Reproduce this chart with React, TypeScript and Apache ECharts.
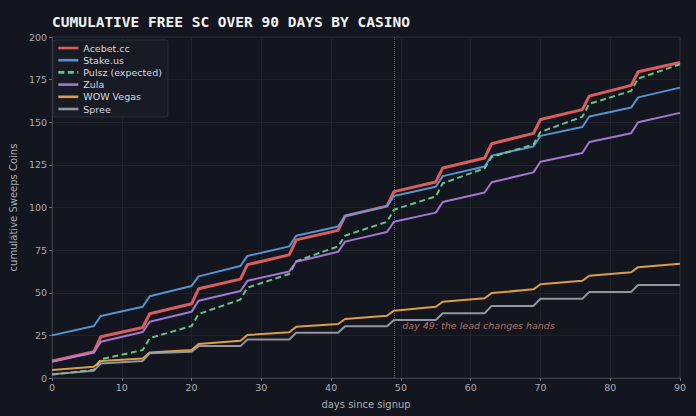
import React, { useEffect, useRef } from "react";
import * as echarts from "echarts";

const TITLE = "CUMULATIVE FREE SC OVER 90 DAYS BY CASINO";
const X_NAME = "days since signup";
const Y_NAME = "cumulative Sweeps Coins";

// breakpoint days (day before and day of each weekly bonus)
const days = [0, 6, 7, 13, 14, 20, 21, 27, 28, 34, 35, 41, 42, 48, 49, 55, 56, 62, 63, 69, 70, 76, 77, 83, 84, 90];

const acebet = [10, 15.4, 24.2, 29.6, 37.7, 43.5, 52.3, 58, 66.5, 72.2, 81, 86.6, 95, 100.8, 109.3, 115, 123.2, 129, 137.4, 143.5, 151.6, 157.4, 165.3, 171.6, 179.6, 185];
const stake = [25, 30.5, 36.4, 41.8, 48, 54, 59.6, 65.7, 71.6, 77.2, 83.4, 88.8, 95, 100.8, 106.7, 112.2, 118.4, 124, 130.4, 135.8, 142, 147.2, 153.4, 158.6, 164.6, 170.3];
const pulsz = [2, 4.8, 11, 16.4, 23.4, 30.5, 37.5, 46, 53, 61, 68.5, 77.2, 83.5, 91.6, 98.7, 106.5, 114.2, 123, 129.6, 137, 144.3, 153.2, 160.8, 168.4, 175.6, 184];
const zula = [9.5, 15, 21.3, 27, 33, 38.8, 45.3, 51, 57, 62.5, 68.2, 74, 80, 85.6, 91.6, 97, 103.2, 108.8, 114.8, 120.6, 126.8, 132, 138.4, 143.6, 150, 155.5];
const wowVegas = [4.7, 6.6, 10, 11.5, 15, 16.4, 19.9, 21.9, 25.2, 26.8, 30.1, 31.7, 34.6, 36.5, 39.5, 41.8, 44.7, 46.8, 49.8, 52, 55, 57, 60, 62, 65, 67];
const spree = [2.2, 4.3, 8.5, 10, 14.5, 15.4, 18.7, 18.7, 22.6, 22.6, 26.6, 26.6, 30.3, 30.3, 34, 34, 38, 38, 42.3, 42.3, 46.5, 46.5, 50.5, 50.5, 54.5, 54.5];

const seriesNames = ["Acebet.cc", "Stake.us", "Pulsz (expected)", "Zula", "WOW Vegas", "Spree"];
const seriesValues = [acebet, stake, pulsz, zula, wowVegas, spree];
const seriesColors = ["#ec6464", "#5b9de0", "#6fd08e", "#b07fe2", "#eda94f", "#9ea2ad"];

const ANNOT_DAY = 49;
const ANNOT_TEXT = "day 49: the lead changes hands";
const ANNOT_LABEL_POS = [50.2, 31];

export default function App() {
  const ref = useRef<HTMLDivElement>(null);
  useEffect(() => {
    if (!ref.current) return;
    const chart = echarts.init(ref.current, undefined, { renderer: "svg" });
    const axisLabel = { color: "#a9adb6", fontSize: 9.5, fontFamily: "DejaVu Sans" };
    const series: any[] = seriesNames.map((name, i) => ({
      name,
      type: "line",
      data: days.map((d, j) => [d, seriesValues[i][j]]),
      showSymbol: false,
      symbol: "none",
      color: seriesColors[i],
      lineStyle: {
        width: i === 0 ? 3 : 2,
        type: i === 2 ? [6, 3.5] : "solid",
        opacity: 0.92,
      },
      z: 3,
      markLine:
        i === 0
          ? {
              silent: true,
              symbol: "none",
              label: { show: false },
              lineStyle: { color: "#a85a50", type: "dotted", width: 1, opacity: 0.7 },
              data: [{ xAxis: ANNOT_DAY }],
            }
          : undefined,
    }));
    series.push({
      name: "annotation",
      type: "scatter",
      silent: true,
      symbolSize: 0,
      data: [ANNOT_LABEL_POS],
      label: {
        show: true,
        position: "right",
        distance: 0,
        formatter: ANNOT_TEXT,
        color: "#d98a80",
        fontStyle: "italic",
        fontSize: 9.5,
        fontFamily: "DejaVu Sans",
      },
      tooltip: { show: false },
    });
    chart.setOption({
      animation: false,
      backgroundColor: "#13161e",
      title: {
        text: TITLE,
        left: 47,
        top: 9,
        textStyle: {
          color: "#f2f2f2",
          fontFamily: "DejaVu Sans Mono",
          fontWeight: "bold",
          fontSize: 14.5,
        },
      },
      legend: {
        data: seriesNames,
        orient: "vertical",
        left: 53,
        top: 40,
        itemWidth: 20,
        itemHeight: 11,
        itemGap: 2.2,
        padding: [3, 6, 3, 4],
        backgroundColor: "#181b24",
        borderColor: "#2a2e39",
        borderWidth: 1,
        borderRadius: 2,
        itemStyle: { opacity: 0 },
        lineStyle: { width: 2.6 },
        textStyle: { color: "#d8dae0", fontSize: 9.5, fontFamily: "DejaVu Sans" },
      },
      grid: {
        left: 50,
        right: 16,
        top: 37,
        bottom: 38,
        show: true,
        borderColor: "#2c303b",
        borderWidth: 1,
        backgroundColor: "#13161e",
      },
      xAxis: {
        type: "value",
        min: 0,
        max: 90,
        interval: 10,
        name: X_NAME,
        nameLocation: "middle",
        nameGap: 21,
        nameTextStyle: { color: "#a9adb6", fontSize: 10, fontFamily: "DejaVu Sans" },
        axisLine: { show: true, lineStyle: { color: "#3a3f4b" } },
        axisTick: { show: true, length: 3, lineStyle: { color: "#6a6f7a" } },
        axisLabel: { ...axisLabel, margin: 4 },
        splitLine: { show: true, lineStyle: { color: "#22262f", width: 0.8 } },
      },
      yAxis: {
        type: "value",
        min: 0,
        max: 200,
        interval: 25,
        name: Y_NAME,
        nameLocation: "middle",
        nameGap: 32,
        nameTextStyle: { color: "#a9adb6", fontSize: 10, fontFamily: "DejaVu Sans" },
        axisLine: { show: true, lineStyle: { color: "#3a3f4b" } },
        axisTick: { show: true, length: 3, lineStyle: { color: "#6a6f7a" } },
        axisLabel: { ...axisLabel, margin: 5 },
        splitLine: { show: true, lineStyle: { color: "#22262f", width: 0.8 } },
      },
      series,
    });
    return () => chart.dispose();
  }, []);
  return (
    <div
      ref={ref}
      style={{ position: "fixed", left: 0, top: 0, width: 696, height: 416 }}
    />
  );
}
